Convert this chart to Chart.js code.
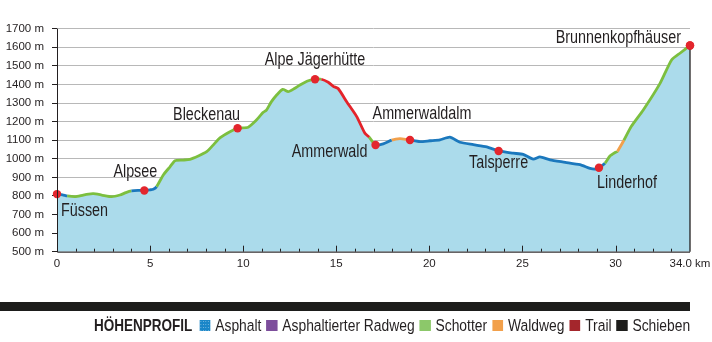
<!DOCTYPE html>
<html><head><meta charset="utf-8">
<script src="https://cdn.jsdelivr.net/npm/chart.js@4.4.1/dist/chart.umd.min.js"></script>
<style>
html,body{margin:0;padding:0;background:#fff;}
#wrap{position:relative;width:712px;height:342px;overflow:hidden;}
#c{position:absolute;left:0;top:0;}
#bar{position:absolute;left:0;top:302px;width:690px;height:9px;background:#1d1d1b;}
#legend{position:absolute;right:22px;top:315px;height:20px;line-height:20px;white-space:nowrap;
  transform:scaleX(0.82);transform-origin:right center;
  font-family:'Liberation Sans',Arial,sans-serif;font-size:16.9px;color:#231f20;}
#legend b{font-weight:bold;font-size:16.5px;}
#legend .sq{display:inline-block;width:13.4px;height:11px;margin:0 6px 0 6px;}
#legend .sq.first{margin-left:8.5px;}
</style></head>
<body><div id="wrap"><canvas id="c" width="712" height="342"></canvas>
<div id="bar"></div>
<div id="legend"></div></div>
<script>
// ---- data ----
const km   = [0.0,0.3,0.55,0.97,1.41,1.7,1.95,2.4,2.94,3.38,3.7,4.0,4.35,4.69,5.0,5.17,5.35,5.71,6.07,6.34,6.78,7.14,7.59,8.04,8.4,8.75,9.29,9.7,10.27,10.63,11.08,11.25,11.5,11.8,12.12,12.42,12.75,13.05,13.5,13.86,14.2,14.57,14.84,15.1,15.56,16.1,16.54,16.77,17.11,17.52,17.98,18.42,18.78,18.96,19.5,20.03,20.57,21.1,21.64,22.36,23.08,23.72,24.5,25.04,25.58,25.94,26.48,27.3,28.09,28.63,28.9,29.11,29.43,29.7,30.0,30.1,30.45,30.85,31.49,32.39,33.01,33.46,34.0];
const elev = [810,806,800,796,805,810,812,805,796,805,818,827,830,829,833,836,850,913,957,990,993,997,1015,1038,1075,1112,1146,1164,1170,1200,1250,1262,1305,1343,1374,1361,1378,1397,1420,1428,1428,1412,1390,1378,1307,1227,1137,1116,1074,1080,1100,1108,1104,1101,1092,1097,1102,1116,1089,1076,1064,1042,1030,1024,998,1010,994,981,968,948,944,952,976,1015,1035,1040,1100,1175,1263,1406,1532,1568,1610];
// surface of the segment that starts at each point
const surface = ['A','A','S','S','S','S','S','S','S','S','S','A','A','A','A','A','S','S','S','S','S','S','S','S','S','S','S','S','S','S','S','S','S','S','S','S','S','S','S','S','T','T','T','T','T','T','T','S','A','A','W','W','A','A','A','A','A','A','A','A','A','A','A','A','A','A','A','A','A','A','A','A','S','S','S','W','S','S','S','S','S','S','S'];
const placeNames = ['Füssen','Alpsee','Bleckenau','Alpe Jägerhütte','Ammerwald','Ammerwaldalm','Talsperre','Linderhof','Brunnenkopfhäuser'];
const placeKm    = [0.0,4.69,9.7,13.86,17.11,18.96,23.72,29.11,34.0];
const yTickValues = [500,600,700,800,900,1000,1100,1200,1300,1400,1500,1600,1700];
const xTickValues = [0,5,10,15,20,25,30,34];
const xTickLabels = ['0','5','10','15','20','25','30','34.0 km'];
const legendNames = ['Asphalt','Asphaltierter Radweg','Schotter','Waldweg','Trail','Schieben'];
const legendKeys  = ['A','R','S','W','T','P'];

// ---- styles ----
const lineColors = {A:'#1b78bd',R:'#7d4e9c',S:'#7cbf3f',W:'#f2a04b',T:'#e4232a',P:'#1d1d1b'};
const swatchColors = {A:'#1a86c8',R:'#7d4e9c',S:'#8cc86a',W:'#f2a04b',T:'#a4262c',P:'#1d1d1b'};
// label anchor offsets relative to the point: [dx, dy, align]
const labelStyle = [[4,22,'left'],[-9,-14,'center'],[-31,-8,'center'],[0,-14,'center'],[-46,12,'center'],[12,-21,'center'],[0,17,'center'],[28,20,'center'],[-9,-2,'right']];
const FONT = "'Liberation Sans',Arial,sans-serif";
const NARROW = 0.82;
const INK = '#231f20';
const FILL = '#abdbeb';
const DOT = '#e3262d';

const placeIdx = placeKm.map(k => km.indexOf(k));
const radii = km.map((k,i) => placeIdx.includes(i) ? 4.2 : 0);
const points = km.map((k,i)=>({x:k,y:elev[i]}));

const decor = {
  id:'decor',
  afterDatasetsDraw(chart){
    const {ctx, chartArea:a, scales:{x,y}} = chart;
    ctx.save();
    ctx.strokeStyle = INK; ctx.lineWidth = 1;
    ctx.beginPath();
    for(let k=1;k<34;k++){
      const px = Math.round(x.getPixelForValue(k))+0.5;
      const len = k%5===0 ? 6 : 3;
      ctx.moveTo(px,a.bottom); ctx.lineTo(px,a.bottom-len);
    }
    ctx.stroke();
    ctx.beginPath();
    ctx.moveTo(a.left+0.5,a.top); ctx.lineTo(a.left+0.5,a.bottom+0.5);
    ctx.lineTo(a.right,a.bottom+0.5);
    ctx.stroke();
    const last = km.length-1;
    const ex = x.getPixelForValue(km[last]), ey = y.getPixelForValue(elev[last]);
    ctx.lineWidth = 1.3;
    ctx.beginPath(); ctx.moveTo(ex, ey); ctx.lineTo(ex, a.bottom); ctx.stroke();
    ctx.fillStyle = DOT;
    ctx.beginPath(); ctx.arc(ex, ey, 4.2, 0, Math.PI*2); ctx.fill();
    // place labels (condensed)
    ctx.fillStyle = INK;
    ctx.font = "17.5px " + FONT;
    ctx.textBaseline = 'alphabetic';
    placeNames.forEach((n,j) => {
      const i = placeIdx[j];
      const px = x.getPixelForValue(km[i]), py = y.getPixelForValue(elev[i]);
      const [dx,dy,al] = labelStyle[j];
      ctx.save();
      ctx.translate(px+dx, py+dy);
      ctx.scale(NARROW,1);
      ctx.textAlign = al;
      ctx.fillText(n, 0, 0);
      ctx.restore();
    });
    ctx.restore();
  }
};

new Chart(document.getElementById('c'), {
  type:'line',
  data:{ datasets:[
    { // profile line with surface colours
      data: points,
      order: 1,
      borderColor: lineColors.S,
      borderWidth: 2.8,
      fill: false,
      tension: 0.2,
      clip: false,
      pointRadius: radii,
      pointHoverRadius: radii,
      pointBackgroundColor: DOT,
      pointBorderWidth: 0,
      segment:{ borderColor: c => lineColors[surface[c.p0DataIndex]] }
    },
    { // area under profile
      data: points,
      order: 2,
      borderWidth: 0,
      borderColor: 'rgba(0,0,0,0)',
      fill: 'start',
      backgroundColor: FILL,
      tension: 0.2,
      pointRadius: 0
    }
  ]},
  options:{
    responsive:false, animation:false,
    layout:{padding:{top:28.7,right:22,left:0,bottom:0}},
    plugins:{legend:{display:false},tooltip:{enabled:false}},
    scales:{
      x:{type:'linear',min:0,max:34,
        afterBuildTicks: s => { s.ticks = xTickValues.map(v=>({value:v})); },
        afterFit: s => { s.height = 342-251.7; s.paddingLeft = 0; s.paddingRight = 0; },
        grid:{display:false,drawTicks:false}, border:{display:false},
        ticks:{autoSkip:false,maxRotation:0,padding:5,color:INK,font:{family:FONT,size:11.5},
          callback: v => xTickLabels[xTickValues.indexOf(v)] }
      },
      y:{type:'linear',min:500,max:1700,
        afterBuildTicks: s => { s.ticks = yTickValues.map(v=>({value:v})); },
        afterFit: s => { s.width = 57; s.paddingTop = 0; s.paddingBottom = 0; },
        grid:{color:'#b8b8b8',lineWidth:1,tickColor:INK,tickLength:5,drawTicks:true},
        border:{display:false},
        ticks:{padding:8,color:INK,font:{family:FONT,size:11.5},callback: v => v+' m'}
      }
    }
  },
  plugins:[decor]
});

// legend
const lg = document.getElementById('legend');
let html = '<b>HÖHENPROFIL</b>';
legendKeys.forEach((k,i)=>{
  let bg = swatchColors[k];
  if(k==='A') bg = 'radial-gradient(circle, rgba(255,255,255,0.45) 0.6px, transparent 0.9px) 0 0/3px 3px, '+bg;
  html += '<span class="sq'+(i===0?' first':'')+'" style="background:'+bg+'"></span>'+legendNames[i];
});
lg.innerHTML = html;
</script></body></html>
